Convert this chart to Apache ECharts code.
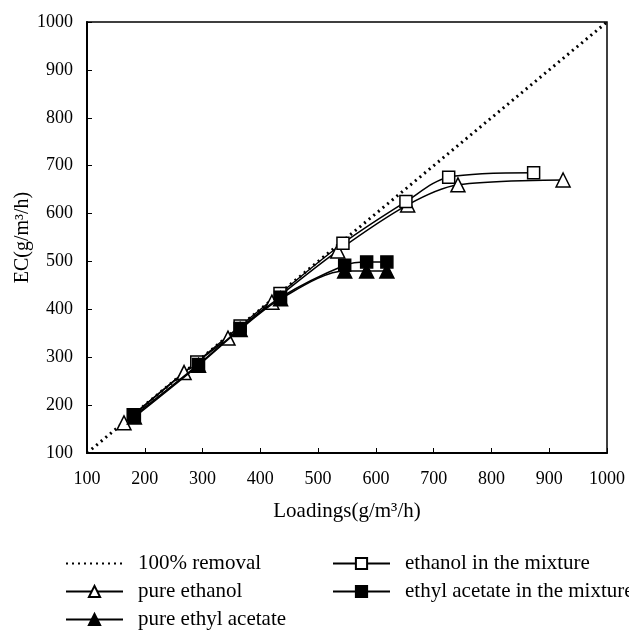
<!DOCTYPE html>
<html lang="en" style="height: 100%">

<head>
  <meta charset="UTF-8" />
  <title>EC vs Loadings</title>
  <script src="https://cdn.jsdelivr.net/npm/echarts@6/dist/echarts.min.js"></script>
</head>

<body style="height: 100%; margin: 0; background: #fff">
  <div id="main" style="width: 629px; height: 630px"></div>
  <script type="text/javascript">
    // 100% removal reference line
    var removalLine = [[100, 100], [1000, 1000]];
    // pure ethanol
    var pureEthanol = [[164, 163], [268, 268], [344, 340], [420, 415], [534, 522], [655, 618], [742, 660], [924, 670]];
    // ethanol in the mixture
    var ethanolMix = [[180, 180], [290, 290], [365, 365], [434, 433], [543, 538], [652, 625], [726, 676], [873, 685]];
    // pure ethyl acetate
    var pureEthylAcetate = [[182, 175], [293, 283], [365, 358], [435, 422], [546, 480], [584, 480], [619, 480]];
    // ethyl acetate in the mixture
    var ethylAcetateMix = [[182, 178], [293, 285], [365, 360], [435, 425], [546, 492], [584, 499], [619, 499]];

    var font = 'Liberation Serif';
    var myChart = echarts.init(document.getElementById('main'));

    function curve(name, data, symbol, filled, size) {
      return {
        name: name,
        type: 'line',
        data: data,
        smooth: 0.3,
        symbol: symbol,
        symbolSize: size,
        showSymbol: true,
        lineStyle: { color: '#000', width: 1.5 },
        itemStyle: { color: filled ? '#000' : '#fff', borderColor: '#000', borderWidth: 1.5 },
        z: filled ? 4 : 3
      };
    }

    // 图例: 每行一个, 两列
    function legendRow(item, left, top) {
      return {
        data: [item],
        left: left, top: top, padding: 0,
        itemWidth: 57, itemHeight: 14,
        textStyle: { fontFamily: font, fontSize: 21, color: '#000', padding: [0, 0, 0, 10] }
      };
    }

    function plain(v) { return String(v); }

    var option = {
      backgroundColor: '#fff',
      animation: false,
      grid: {
        left: 87, right: 22, top: 22, bottom: 177, outerBoundsMode: 'none',
        show: true, borderColor: '#000', borderWidth: 1.5, backgroundColor: 'transparent'
      },
      legend: [
        legendRow({ name: '100% removal', itemStyle: { opacity: 0 } }, 65, 553),
        legendRow('pure ethanol', 65, 581),
        legendRow('pure ethyl acetate', 65, 609),
        legendRow('ethanol in the mixture', 332, 553),
        legendRow('ethyl acetate in the mixture', 332, 581)
      ],
      xAxis: {
        type: 'value', min: 100, max: 1000, interval: 100,
        name: 'Loadings(g/m³/h)', nameLocation: 'middle', nameGap: 48, nameMoveOverlap: false,
        nameTextStyle: { fontFamily: font, fontSize: 21, color: '#000' },
        axisLine: { lineStyle: { color: '#000', width: 2 } },
        axisTick: { inside: true, length: 5, lineStyle: { color: '#000' } },
        axisLabel: { fontFamily: font, fontSize: 18, color: '#000', margin: 17, formatter: plain },
        splitLine: { show: false }
      },
      yAxis: {
        type: 'value', min: 100, max: 1000, interval: 100,
        name: 'EC(g/m³/h)', nameLocation: 'middle', nameGap: 54, nameMoveOverlap: false,
        nameTextStyle: { fontFamily: font, fontSize: 20, color: '#000' },
        axisLine: { lineStyle: { color: '#000', width: 2 } },
        axisTick: { inside: true, length: 5, lineStyle: { color: '#000' } },
        axisLabel: { fontFamily: font, fontSize: 18, color: '#000', margin: 14, formatter: plain },
        splitLine: { show: false }
      },
      series: [
        {
          name: '100% removal',
          type: 'line',
          data: removalLine,
          symbol: 'none',
          lineStyle: { color: '#000', width: 3, type: [2, 4] },
          itemStyle: { color: '#000' },
          z: 2
        },
        curve('pure ethanol', pureEthanol, 'triangle', false, 14),
        curve('ethanol in the mixture', ethanolMix, 'rect', false, 12),
        curve('pure ethyl acetate', pureEthylAcetate, 'triangle', true, 14),
        curve('ethyl acetate in the mixture', ethylAcetateMix, 'rect', true, 12)
      ]
    };

    myChart.setOption(option);
    window.addEventListener('resize', myChart.resize);
  </script>
</body>

</html>
